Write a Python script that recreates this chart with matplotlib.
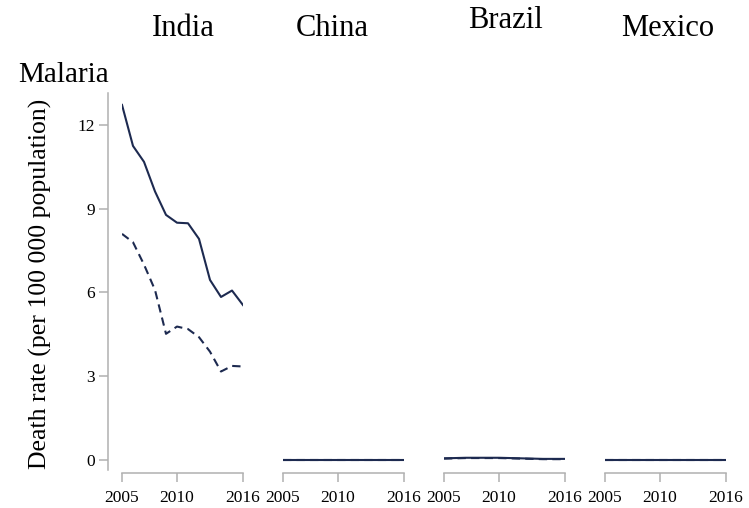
import matplotlib
matplotlib.use('Agg')
import matplotlib.pyplot as plt

plt.rcParams['font.family'] = ['Liberation Serif', 'DejaVu Serif']

# Data
years = [2005, 2006, 2007, 2008, 2009, 2010, 2011, 2012, 2013, 2014, 2015, 2016]
countries = ['India', 'China', 'Brazil', 'Mexico']

india_solid = [12.72, 11.25, 10.68, 9.62, 8.78, 8.50, 8.48, 7.92, 6.45, 5.84, 6.07, 5.55]
india_dashed = [8.10, 7.80, 7.00, 6.09, 4.52, 4.78, 4.69, 4.40, 3.88, 3.17, 3.37, 3.35]
china_solid = [0.01, 0.01, 0.01, 0.01, 0.01, 0.01, 0.01, 0.01, 0.01, 0.01, 0.01, 0.01]
china_dashed = [0.005, 0.005, 0.005, 0.005, 0.005, 0.005, 0.005, 0.005, 0.005, 0.005, 0.005, 0.005]
brazil_solid = [0.06, 0.07, 0.08, 0.08, 0.08, 0.08, 0.07, 0.06, 0.05, 0.04, 0.04, 0.04]
brazil_dashed = [0.05, 0.06, 0.07, 0.07, 0.07, 0.07, 0.06, 0.05, 0.04, 0.03, 0.03, 0.03]
mexico_solid = [0.01, 0.01, 0.01, 0.01, 0.01, 0.01, 0.01, 0.01, 0.01, 0.01, 0.01, 0.01]
mexico_dashed = [0.005, 0.005, 0.005, 0.005, 0.005, 0.005, 0.005, 0.005, 0.005, 0.005, 0.005, 0.005]

solid = [india_solid, china_solid, brazil_solid, mexico_solid]
dashed = [india_dashed, china_dashed, brazil_dashed, mexico_dashed]

yticks = [0, 3, 6, 9, 12]
xticks = [2005, 2010, 2016]

line_color = '#1d2a50'
axis_color = '#b0b0b0'

W, H = 749, 508
fig = plt.figure(figsize=(W / 100, H / 100), dpi=100)

# title positions (pixel x, pixel y)
title_pos = [(183, 28), (332, 28), (505, 20), (668, 28)]

for i, name in enumerate(countries):
    left = 122 + i * 161
    ax = fig.add_axes([left / W, (H - 470) / H, 121 / W, 377 / H])
    ax.plot(years, solid[i], color=line_color, lw=1.5)
    ax.plot(years, dashed[i], color=line_color, lw=1.5, dashes=(4, 2.5))
    ax.set_xlim(2005, 2016)
    ax.set_ylim(-0.358, 13.146)
    ax.patch.set_visible(False)

    for s in ['top', 'right']:
        ax.spines[s].set_visible(False)
    ax.spines['bottom'].set_position(('outward', 2.2))
    ax.spines['bottom'].set_color(axis_color)
    ax.spines['bottom'].set_linewidth(1.1)
    ax.set_xticks(xticks)
    ax.tick_params(axis='x', colors=axis_color, length=6.5, width=1.1,
                   labelcolor='black', labelsize=12.5, pad=6)

    if i == 0:
        ax.spines['left'].set_position(('outward', 10.1))
        ax.spines['left'].set_color(axis_color)
        ax.spines['left'].set_linewidth(1.1)
        ax.set_yticks(yticks)
        ax.tick_params(axis='y', colors=axis_color, length=6.5, width=1.1,
                       labelcolor='black', labelsize=12.5, pad=3)
    else:
        ax.spines['left'].set_visible(False)
        ax.set_yticks([])

    tx, ty = title_pos[i]
    fig.text(tx / W, 1 - ty / H, name, ha='center', va='center', fontsize=22)

fig.text(18 / W, 1 - 75 / H, 'Malaria', ha='left', va='center', fontsize=21)
fig.text(40 / W, 1 - 284 / H, 'Death rate (per 100 000 population)',
         rotation=90, ha='center', va='center', fontsize=18.5)

fig.savefig('out.png', dpi=100)
